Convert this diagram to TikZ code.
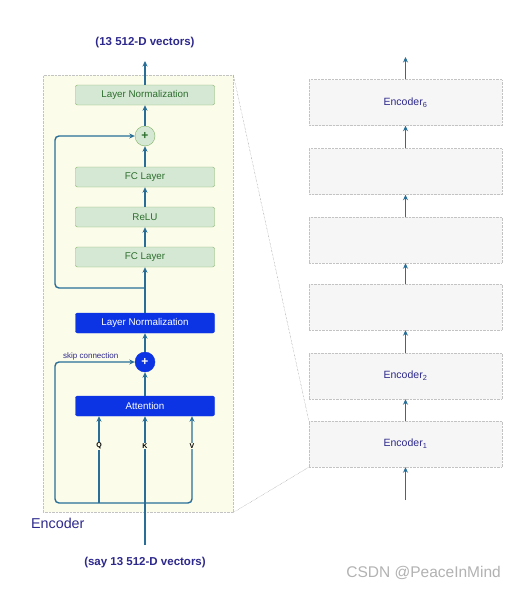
\documentclass[tikz,border=0pt]{standalone}
\usepackage{fontspec}
\setmainfont{Liberation Sans}
\usetikzlibrary{arrows.meta}
\definecolor{arr}{RGB}{40,110,150}
\definecolor{bbox}{RGB}{12,52,228}
\definecolor{gfill}{RGB}{213,232,212}
\definecolor{gdraw}{RGB}{130,179,102}
\definecolor{gtext}{RGB}{45,110,45}
\definecolor{panel}{RGB}{252,252,234}
\definecolor{dblue}{RGB}{45,40,140}
\definecolor{efill}{RGB}{246,246,246}
\definecolor{edraw}{RGB}{195,195,195}
\tikzset{
  flow/.style={draw=arr, line width=1.4pt, -{Stealth[length=5.5pt,width=5pt]}},
  gbox/.style={draw=gdraw, fill=gfill, rounded corners=2pt, minimum width=139pt, minimum height=20pt, inner sep=0pt, text=gtext, font=\fontsize{9.8}{11}\selectfont},
  bbx/.style={draw=bbox, fill=bbox, rounded corners=2pt, minimum width=139pt, minimum height=20pt, inner sep=0pt, text=white, font=\fontsize{9.8}{11}\selectfont},
  ebox/.style={draw=edraw, densely dotted, fill=efill, minimum width=193pt, minimum height=46pt, inner sep=0pt, text=dblue, font=\fontsize{10.5}{12}\selectfont},
  lbl/.style={text=dblue, font=\fontsize{11.5}{13}\selectfont\bfseries},
  qkv/.style={fill=panel, inner sep=1pt, font=\fontsize{7}{8}\selectfont\bfseries},
}
\begin{document}
\begin{tikzpicture}[x=1pt,y=-1pt]
\useasboundingbox (0,0) rectangle (516,589);
\fill[white] (0,0) rectangle (516,589);
% left panel
\node[draw=edraw, densely dotted, fill=panel, minimum width=190pt, minimum height=437pt, inner sep=0pt, anchor=north west] (panel) at (43,75) {};
% right column
\node[ebox] (e6) at (405.5,102.5) {Encoder\textsubscript{6}};
\node[ebox] (e5) at (405.5,171.5) {};
\node[ebox] (e4) at (405.5,240) {};
\node[ebox] (e3) at (405.5,307) {};
\node[ebox] (e2) at (405.5,376) {Encoder\textsubscript{2}};
\node[ebox] (e1) at (405.5,444) {Encoder\textsubscript{1}};
\draw[draw=gray, densely dotted] (panel.north east) -- (e1.north west);
\draw[draw=gray, densely dotted] (panel.south east) -- (e1.south west);
\coordinate (rin) at (405.5,500);
\coordinate (rout) at (405.5,57);
\draw[flow] (rin) -- (e1.south);
\draw[flow] (e1.north) -- (e2.south);
\draw[flow] (e2.north) -- (e3.south);
\draw[flow] (e3.north) -- (e4.south);
\draw[flow] (e4.north) -- (e5.south);
\draw[flow] (e5.north) -- (e6.south);
\draw[flow] (e6.north) -- (rout);
% left encoder internals
\node[gbox] (lnt) at (145,95) {Layer Normalization};
\node[circle, draw=gdraw, fill=gfill, minimum size=20pt, inner sep=0pt, text=gtext, font=\bfseries\fontsize{12}{12}\selectfont] (pg) at (145,136) {+};
\node[gbox] (fc2) at (145,177) {FC Layer};
\node[gbox] (relu) at (145,217) {ReLU};
\node[gbox] (fc1) at (145,257) {FC Layer};
\node[bbx] (lnb) at (145,323) {Layer Normalization};
\node[circle, draw=bbox, fill=bbox, minimum size=20pt, inner sep=0pt, text=white, font=\bfseries\fontsize{12}{12}\selectfont] (pb) at (145,362) {+};
\node[bbx] (attn) at (145,406) {Attention};
\node[text=dblue, font=\fontsize{8}{9}\selectfont, anchor=south west, inner sep=1pt] (skip) at (62,361) {skip connection};
\coordinate (out) at (145,61);
\node[lbl] (outl) at (145,43) {(13 512-D vectors)};
\node[lbl] (inl) at (145,563) {(say 13 512-D vectors)};
\node[text=dblue, font=\fontsize{14.3}{16}\selectfont, anchor=west, inner sep=0pt] (enc) at (31,523) {Encoder};
% main flow
\draw[flow] (lnt.north) -- (out);
\draw[flow] (pg.north) -- (lnt.south);
\draw[flow] (fc2.north) -- (pg.south);
\draw[flow] (relu.north) -- (fc2.south);
\draw[flow] (fc1.north) -- (relu.south);
\draw[flow] (lnb.north) -- (fc1.south);
\draw[flow] (pb.north) -- (lnb.south);
\draw[flow] (attn.north) -- (pb.south);
% residual 2
\coordinate (r2) at (145,288);
\coordinate (r2l) at (55,288);
\draw[flow, rounded corners=4pt] (r2) -- (r2l) |- (pg.west);
% inputs
\coordinate (kin) at (145,545);
\coordinate (kj) at (145,503);
\coordinate (qj) at (99,503);
\coordinate (lc) at (55,503);
\coordinate (rc) at (192,503);
\draw[flow] (kin) -- (attn.south);
\draw[flow] (qj) -- (attn.south -| qj);
\draw[flow, rounded corners=4pt] (kj) -- (lc) |- (pb.west);
\draw[flow, rounded corners=4pt] (kj) -- (rc) -- (attn.south -| rc);
\node[qkv] (q) at (99,446) {Q};
\node[qkv] (k) at (145,446) {K};
\node[qkv] (v) at (192,446) {V};
% watermark
\node[text=gray!60, font=\fontsize{15.5}{17}\selectfont, anchor=east, inner sep=0pt] (wm) at (501,573) {CSDN @PeaceInMind};
\end{tikzpicture}
\end{document}
